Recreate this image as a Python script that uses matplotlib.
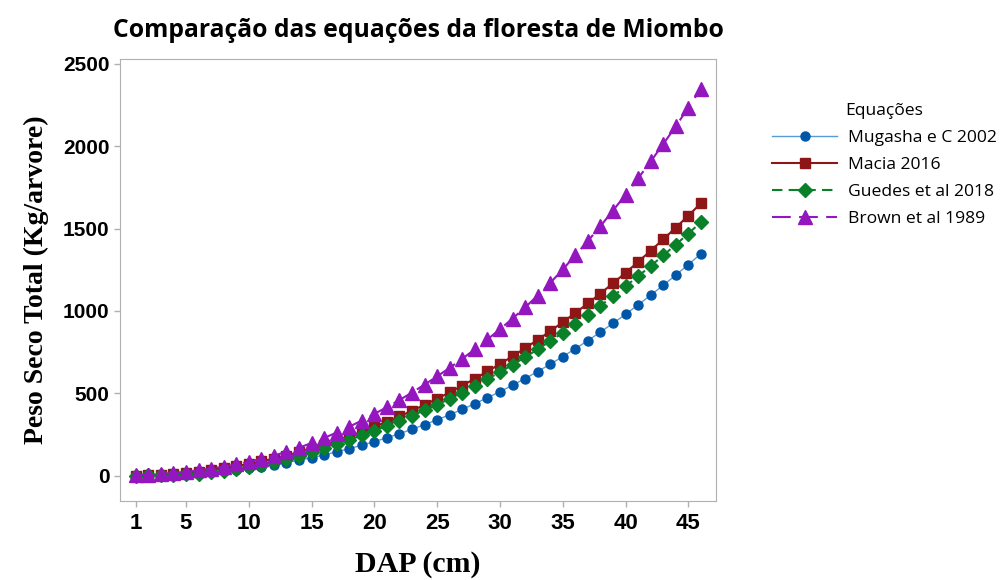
import matplotlib
matplotlib.use("Agg")
import matplotlib.pyplot as plt

# DAP (cm)
dap = list(range(1, 47))

# Peso seco total (kg/arvore)
mugasha = [0, 1, 3, 6, 9, 14, 20, 27, 35, 44, 55, 66, 79, 94, 109, 126, 145, 164,
           185, 207, 230, 255, 282, 310, 339, 370, 403, 437, 473, 510, 549, 590, 632,
           677, 723, 771, 820, 872, 925, 980, 1037, 1096, 1156, 1218, 1282, 1347]
macia = [1, 3, 6, 11, 17, 25, 34, 45, 57, 71, 87, 104, 122, 143, 164, 188, 213, 239,
         267, 297, 328, 360, 394, 430, 467, 506, 547, 589, 633, 678, 725, 774, 825,
         877, 932, 988, 1046, 1106, 1168, 1232, 1298, 1366, 1435, 1506, 1579, 1654]
guedes = [1, 2, 3, 5, 8, 13, 20, 29, 40, 52, 67, 83, 101, 121, 143, 167, 191, 217,
          244, 273, 302, 332, 364, 397, 431, 467, 505, 545, 586, 629, 673, 719, 767,
          817, 868, 921, 976, 1032, 1090, 1150, 1211, 1273, 1337, 1403, 1470, 1539]
brown = [4, 7, 11, 17, 24, 33, 43, 55, 68, 84, 102, 122, 145, 170, 198, 229, 262, 297,
         335, 375, 416, 459, 505, 553, 603, 655, 710, 767, 827, 889, 954, 1022, 1093,
         1170, 1252, 1338, 1425, 1515, 1610, 1705, 1805, 1908, 2013, 2122, 2234, 2350]

labels = ["Mugasha e C 2002", "Macia 2016", "Guedes et al 2018", "Brown et al 1989"]
x_ticks = [1, 5, 10, 15, 20, 25, 30, 35, 40, 45]
y_ticks = [0, 500, 1000, 1500, 2000, 2500]

num_font = ["Liberation Sans Narrow", "Liberation Sans", "DejaVu Sans"]
serif_font = ["Liberation Serif", "DejaVu Serif"]
ui_font = ["Open Sans", "DejaVu Sans"]

fig = plt.figure(figsize=(10.06, 5.8), dpi=100)
ax = fig.add_axes([0.1193, 0.1367, 0.5924, 0.7616])

ax.plot(dap, mugasha, color="#5b9bd5", lw=1.0, marker="o", ms=6.5,
        mfc="#0057a8", mec="#0057a8", label=labels[0], zorder=3)
ax.plot(dap, macia, color="#8e1616", lw=1.5, marker="s", ms=7,
        mfc="#8e1616", mec="#8e1616", label=labels[1], zorder=4)
ax.plot(dap, guedes, color="#0a8028", lw=1.5, ls=(0, (5, 3)), marker="D", ms=7,
        mfc="#0a8028", mec="#0a8028", label=labels[2], zorder=5)
ax.plot(dap, brown, color="#9316be", lw=1.5, ls=(0, (9, 4)), marker="^", ms=10.5,
        mfc="#9316be", mec="#9316be", label=labels[3], zorder=6)

ax.set_xlim(-0.25, 47.2)
ax.set_ylim(-152, 2530)
ax.set_xticks(x_ticks)
ax.set_yticks(y_ticks)

for s in ax.spines.values():
    s.set_color("#b0b0b0")
ax.tick_params(colors="#b0b0b0", length=4, width=1, labelcolor="black", labelsize=15)
ax.tick_params(axis="x", labelsize=16, pad=5)
for t in ax.get_xticklabels() + ax.get_yticklabels():
    t.set_family(num_font)
    t.set_fontweight("bold")

ax.set_xlabel("DAP (cm)", family=serif_font, fontweight="bold", fontsize=21.5, labelpad=12)
ax.set_ylabel("Peso Seco Total (Kg/arvore)", family=serif_font, fontweight="bold",
              fontsize=20, labelpad=10)
ax.set_title("Comparação das equações da floresta de Miombo", family=ui_font,
             fontweight="bold", fontsize=17.8, pad=16)

leg = fig.legend(loc="upper left", bbox_to_anchor=(0.752, 0.85), frameon=False,
                 title="Equações", prop={"family": ui_font, "size": 12.6},
                 title_fontproperties={"family": ui_font, "size": 12.6},
                 handlelength=3.7, handletextpad=0.6, labelspacing=0.62)

fig.savefig("out.png", dpi=100)
